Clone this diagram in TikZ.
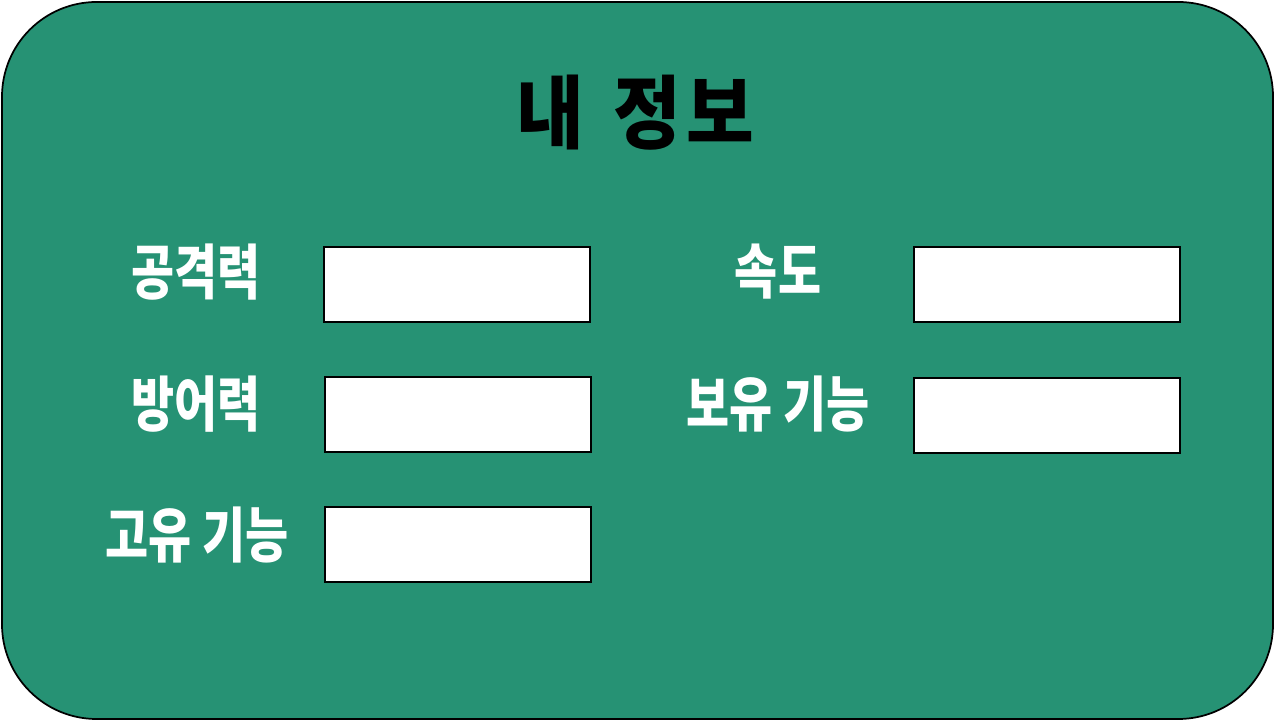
\documentclass[tikz,border=0pt]{standalone}
\usepackage{fontspec}
\usepackage{xcolor}
\usepackage{tikz}
\newfontfamily\labfont[FakeStretch=0.78]{Noto Sans CJK KR}
\newfontfamily\titlefont[FakeStretch=0.92]{Noto Sans CJK KR}
\definecolor{card}{HTML}{269274}
\definecolor{text}{HTML}{FFFFFF}
\definecolor{ink}{HTML}{000000}
\tikzset{
  cardbg/.style={draw=ink, fill=card, line width=1.3pt, rounded corners=71pt},
  field/.style={draw=ink, fill=white, line width=1.9pt, minimum width=199.5pt, minimum height=56.25pt, inner sep=0pt},
  lab/.style={text=text, font=\labfont\bfseries\fontsize{45}{50}\selectfont, inner sep=0pt},
  ttl/.style={text=ink, font=\titlefont\bfseries\fontsize{60}{66}\selectfont, inner sep=0pt}
}
\begin{document}
\begin{tikzpicture}[x=0.75pt,y=0.75pt]
  \useasboundingbox (0,0) rectangle (1275,721);
  \draw[cardbg] (2,2) rectangle (1273,719);

  \node[ttl] (title) at (635,608) {내\hspace{22pt}정\hspace{4pt}보};

  % left column
  \node[lab] (atk) at (196,449) {공격력};
  \node[field] (atkbox) at (457,436.5) {};
  \node[lab] (def) at (196,317) {방어력};
  \node[field] (defbox) at (458,306.5) {};
  \node[lab] (own) at (197,186) {고유 기능};
  \node[field] (ownbox) at (458,176.5) {};

  % right column
  \node[lab] (spd) at (778,449) {속도};
  \node[field] (spdbox) at (1047,436.5) {};
  \node[lab] (item) at (778,317) {보유 기능};
  \node[field] (itembox) at (1047,305.5) {};
\end{tikzpicture}
\end{document}
